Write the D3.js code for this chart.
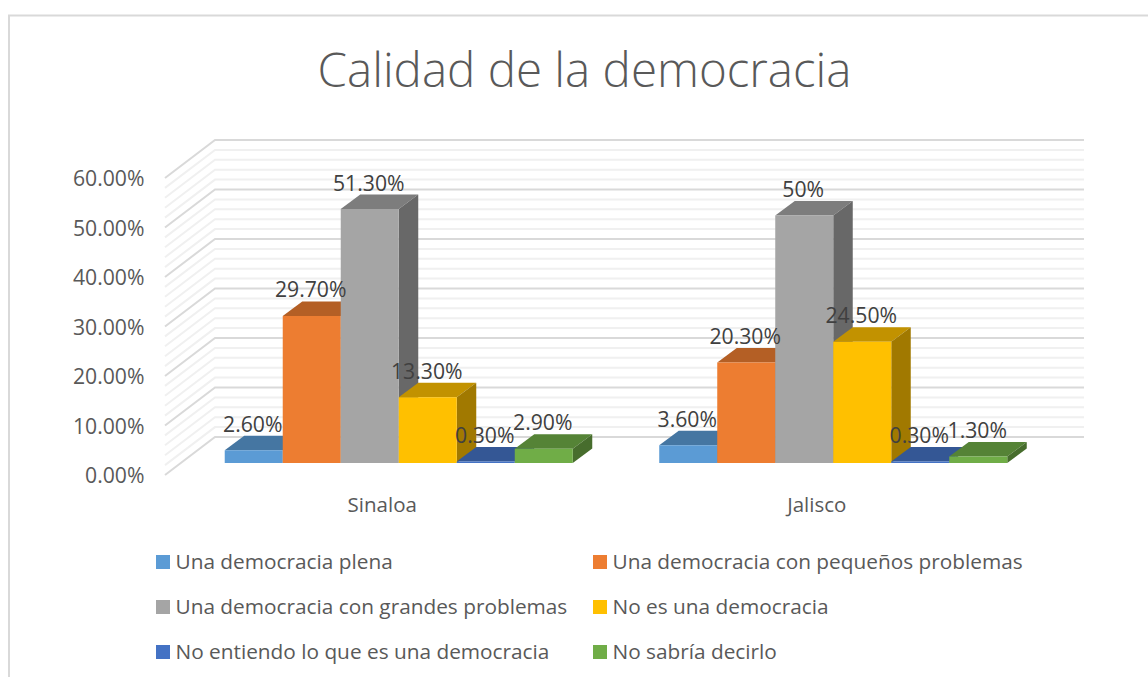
<!DOCTYPE html>
<html><head><meta charset="utf-8">
<script src="https://cdn.jsdelivr.net/npm/d3@7/dist/d3.min.js"></script>
<style>html,body{margin:0;padding:0;background:#fff}svg{display:block}text{font-family:"Open Sans",sans-serif}</style>
</head><body><svg id="c" width="1148" height="677"></svg>
<script>
const title = "Calidad de la democracia";
const categories = ["Sinaloa", "Jalisco"];
const seriesNames = ["Una democracia plena","Una democracia con pequeños problemas","Una democracia con grandes problemas","No es una democracia","No entiendo lo que es una democracia","No sabría decirlo"];
const seriesColors = ["#5B9BD5","#ED7D31","#A5A5A5","#FFC000","#4472C4","#70AD47"];
const sinaloa = [2.6, 29.7, 51.3, 13.3, 0.3, 2.9];
const jalisco = [3.6, 20.3, 50, 24.5, 0.3, 1.3];
const sinaloaLabels = ["2.60%","29.70%","51.30%","13.30%","0.30%","2.90%"];
const jaliscoLabels = ["3.60%","20.30%","50%","24.50%","0.30%","1.30%"];
const valueTicks = [0,10,20,30,40,50,60];
const minorTicks = d3.range(0,61,2);

const svg = d3.select("#c");
const textCol = "#595959";
// frame
svg.append("path").attr("d","M9 677V15.5H1148").attr("fill","none").attr("stroke","#d9d9d9").attr("stroke-width",2);

svg.append("text").attr("x",584.5).attr("y",87).attr("text-anchor","middle").attr("font-size",47.5).attr("font-weight",300).attr("fill",textCol).text(title);

const yFront = d3.scaleLinear().domain([0,60]).range([475,178]);
const yBack  = d3.scaleLinear().domain([0,60]).range([437,140]);
const yBar   = d3.scaleLinear().domain([0,60]).range([463,166]);
const xLeftFront = 165, xLeftBack = 215, xRightBack = 1084;

// walls
const grid = svg.append("g");
grid.selectAll("path.minor").data(minorTicks.filter(d=>d%10!==0)).join("path").attr("class","minor")
  .attr("d",d=>`M${xLeftFront} ${yFront(d)}L${xLeftBack} ${yBack(d)}H${xRightBack}`)
  .attr("fill","none").attr("stroke","#f0f0f0").attr("stroke-width",2);
grid.selectAll("path.major").data(valueTicks).join("path").attr("class","major")
  .attr("d",d=>`M${xLeftFront} ${yFront(d)}L${xLeftBack} ${yBack(d)}H${xRightBack}`)
  .attr("fill","none").attr("stroke","#d9d9d9").attr("stroke-width",2);

// value axis
const yAxis = svg.append("g").attr("transform","translate(144.5,1)")
  .call(d3.axisLeft(yFront).tickValues(valueTicks).tickSize(0).tickPadding(0).tickFormat(d=>d3.format(".2f")(d)+"%"));
yAxis.select(".domain").remove();
yAxis.selectAll("text").attr("font-size",21.2).attr("fill",textCol).style("font-family",'"Open Sans",sans-serif');

// category axis
const xCat = d3.scaleBand().domain(categories).range([165,1034]);
const xAxis = svg.append("g").attr("transform","translate(0,497)")
  .call(d3.axisBottom(xCat).tickSize(0).tickPadding(0));
xAxis.select(".domain").remove();
xAxis.selectAll("text").attr("font-size",20.5).attr("fill",textCol).style("font-family",'"Open Sans",sans-serif');

// bars
const xGroup = d3.scaleBand().domain(categories).range([181.5,1050.5]).paddingInner(0.199).paddingOuter(0.0995);
const xBar = d3.scaleBand().domain(d3.range(seriesNames.length)).range([0,xGroup.bandwidth()]);
const depthX = 19.5, depthY = 14.5;
const shade = (c,k)=>{const r=d3.rgb(c);return d3.rgb(r.r*k,r.g*k,r.b*k).formatHex();};
const tables = [[categories[0],sinaloa,sinaloaLabels],[categories[1],jalisco,jaliscoLabels]];
tables.forEach(([cat,vals,labs])=>{
  const g = svg.append("g");
  vals.forEach((v,i)=>{
    const x0 = xGroup(cat)+xBar(i), w = xBar.bandwidth(), x1 = x0+w, yt = yBar(v), yb = yBar(0);
    const c = seriesColors[i];
    g.append("path").attr("d",`M${x0} ${yt}l${depthX} ${-depthY}H${x1+depthX}L${x1} ${yt}Z`).attr("fill",shade(c,0.76));
    g.append("path").attr("d",`M${x1} ${yt}l${depthX} ${-depthY}V${yb-depthY}L${x1} ${yb}Z`).attr("fill",shade(c,0.63));
    g.append("path").attr("d",`M${x0} ${yt}H${x1}V${yb}H${x0}Z`).attr("fill",c);
  });
  vals.forEach((v,i)=>{
    const x0 = xGroup(cat)+xBar(i), w = xBar.bandwidth();
    g.append("text").attr("x",x0+w/2-1).attr("y",yBar(v)-depthY-4)
      .attr("text-anchor","middle").attr("font-size",21.2).attr("fill","#404040").text(labs[i]);
  });
});

// legend
const legendX = [156,593], legendY = [562,607,652];
const leg = svg.append("g");
seriesNames.forEach((n,i)=>{
  const lx = legendX[i%2], ly = legendY[Math.floor(i/2)];
  leg.append("rect").attr("x",lx).attr("y",ly-7).attr("width",14).attr("height",14).attr("fill",seriesColors[i]);
  leg.append("text").attr("x",lx+19.5).attr("y",ly+7).attr("font-size",20.8).attr("fill",textCol).text(n);
});
</script></body></html>
